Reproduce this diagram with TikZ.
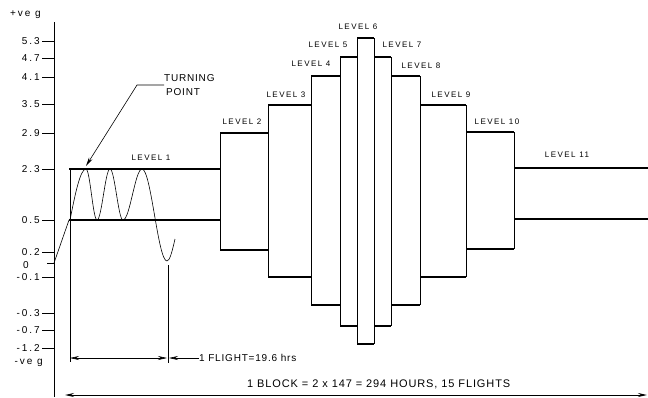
\documentclass[tikz,border=0pt]{standalone}
\usepackage{fontspec}
\setmainfont{Liberation Sans}
\newfontfamily\axf[LetterSpace=20]{Liberation Sans}
\newfontfamily\lvf[LetterSpace=18]{Liberation Sans}
\newfontfamily\txf[LetterSpace=8]{Liberation Sans}
\usetikzlibrary{arrows.meta}
\begin{document}
\begin{tikzpicture}[x=1pt,y=-1pt,
  axislabel/.style={anchor=east,inner sep=0pt,font=\axf\fontsize{10}{12}\selectfont},
  lvl/.style={inner sep=0pt,font=\lvf\fontsize{8}{10}\selectfont},
  note/.style={inner sep=0pt,font=\txf\fontsize{10}{12}\selectfont},
  hline/.style={line width=1.3pt},
  vline/.style={line width=0.7pt},
  tickln/.style={line width=0.8pt},
  thin/.style={line width=0.6pt},
  arr/.style={-{Stealth[length=9pt,width=4pt]}},
  darr/.style={{Stealth[length=9pt,width=4pt]}-{Stealth[length=9pt,width=4pt]}}]
\useasboundingbox (0,0) rectangle (648,397);
% axis
\coordinate (atop) at (54,22);
\coordinate (abot) at (54,397);
\draw[vline] (atop) -- (abot);
\node[axislabel] (pos) at (41,15) {+ve g};
\node[axislabel] (neg) at (43,363) {-ve g};
\foreach \v/\y [count=\i] in {5.3/41,4.7/58,4.1/77,3.5/104,2.9/133,2.3/169,0.5/220,0.2/252,-0.1/277,-0.3/313,-0.7/330,-1.2/348}{
  \draw[tickln] (42,\y) -- (54,\y);
  \node[axislabel] (ax\i) at (40,\y) {\v};
}
\draw[tickln] (47,263) -- (54,263);
\node[axislabel] (axz) at (29,265) {0};
% start ramp
\coordinate (o) at (54,263);
\coordinate (s) at (69,220);
\draw[thin] (o) -- (s);
% level 1
\draw[hline] (69,169) -- (220,169);
\draw[hline] (69,220) -- (220,220);
\draw[thin] (70,169) -- (70,362);
% wave
\draw[thin] (70,220) sin (86,169) cos (91.5,194.5) sin (97,220) cos (103.5,194.5) sin (110,169) cos (116.5,194.5) sin (123,220) cos (132.5,194.5) sin (142,169) cos (154.5,215) sin (167,261) cos (175,239);
% levels 2-10
\foreach \a/\b/\t/\u in {220/268/133/250, 268/311/105/277, 311/340/76/305, 340/357/57/326, 357/374/38/344, 374/391/57/326, 391/420/76/305, 420/466/105/277, 466/514/132/249}{
  \draw[vline] (\a,\t) -- (\a,\u);
  \draw[vline] (\b,\t) -- (\b,\u);
  \draw[hline] (\a,\t) -- (\b,\t);
  \draw[hline] (\a,\u) -- (\b,\u);
}
% level 11
\draw[hline] (514,168) -- (648,168);
\draw[hline] (514,219) -- (648,219);
% level labels
\node[lvl] (l1) at (151,158) {LEVEL 1};
\node[lvl] (l2) at (242,122) {LEVEL 2};
\node[lvl] (l3) at (286,95) {LEVEL 3};
\node[lvl] (l4) at (311,64) {LEVEL 4};
\node[lvl] (l5) at (328,45) {LEVEL 5};
\node[lvl] (l6) at (358,27) {LEVEL 6};
\node[lvl] (l7) at (402,45) {LEVEL 7};
\node[lvl] (l8) at (421,66) {LEVEL 8};
\node[lvl] (l9) at (451,95) {LEVEL 9};
\node[lvl] (l10) at (497,122) {LEVEL 10};
\node[lvl] (l11) at (567,155) {LEVEL 11};
% turning point
\node[note,anchor=west,align=left] (tp) at (164,85) {TURNING\\[2pt]\hspace*{2pt}POINT};
\coordinate (tpa) at (86,166);
\draw[thin,arr] (tp.west) -- ++(-27,0) -- (tpa);
% flight dimension
\coordinate (d1) at (70,358);
\coordinate (d2) at (167,358);
\coordinate (vt) at (168,265);
\coordinate (vb) at (168,363);
\draw[thin] (vt) -- (vb);
\draw[thin,darr] (d1) -- (d2);
\node[note,anchor=west,font=\txf\fontsize{10}{12}\selectfont] (ft) at (199,358) {1 FLIGHT=19.6 hrs};
\coordinate (d3) at (169,358);
\draw[thin,arr] (ft.west) -- (d3);
% block
\node[note,font=\txf\fontsize{11}{13}\selectfont,anchor=west] (bl) at (247,384) {1 BLOCK = 2 x 147 = 294 HOURS, 15 FLIGHTS};
\coordinate (b1) at (65,395);
\coordinate (b2) at (647,395);
\draw[line width=1pt,darr] (b1) -- (b2);
\end{tikzpicture}
\end{document}
